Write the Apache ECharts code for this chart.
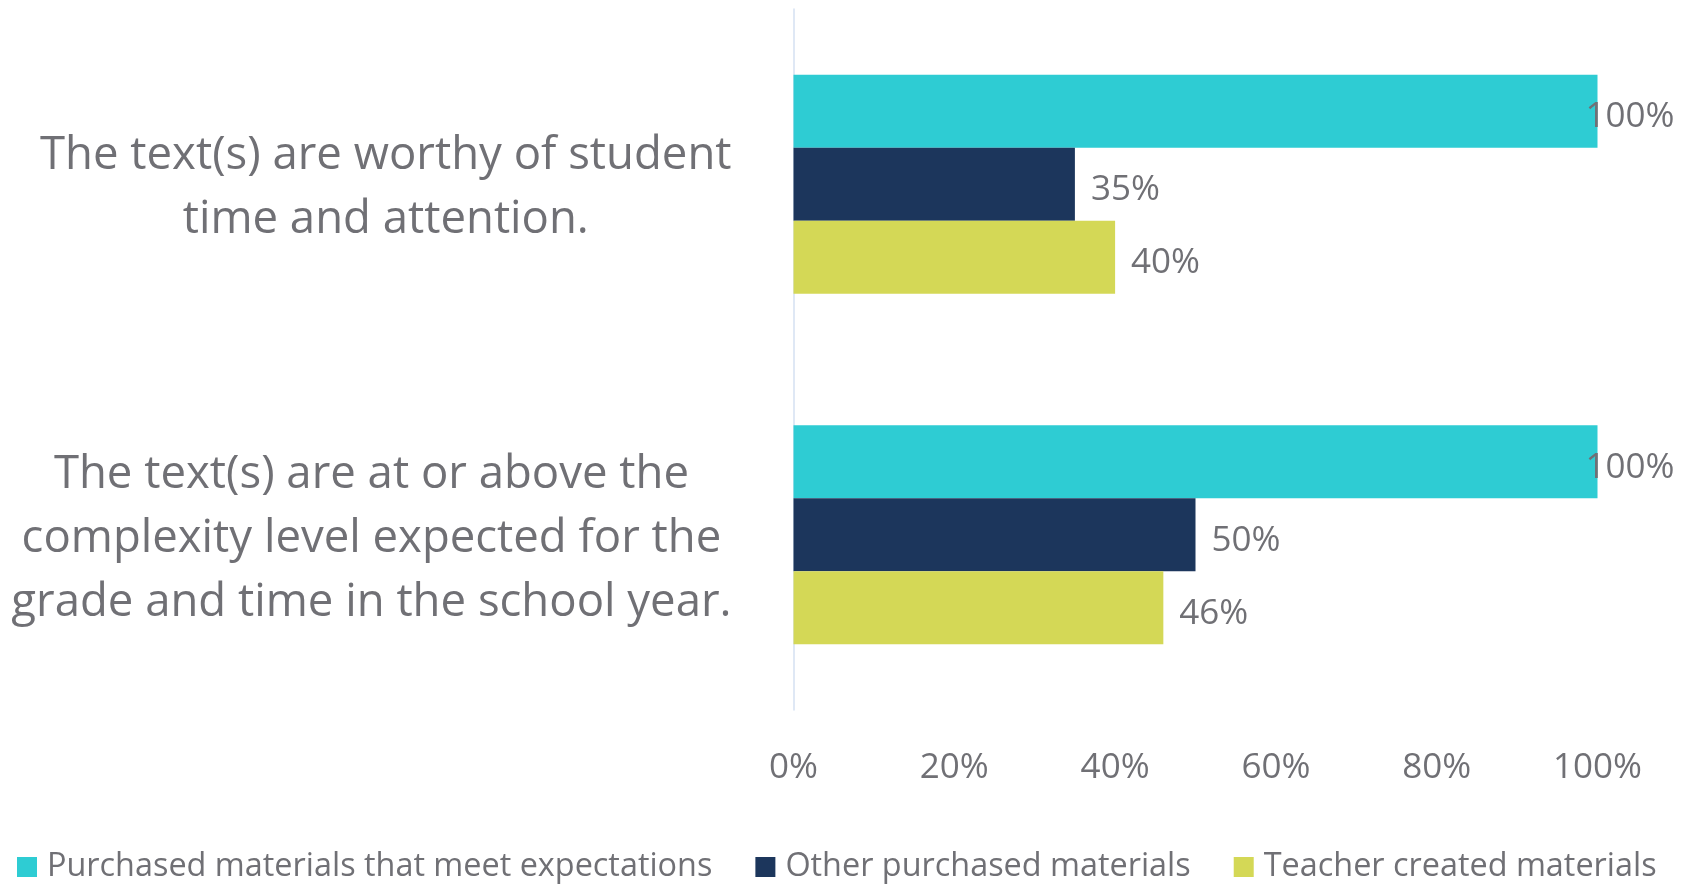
<!DOCTYPE html>
<html>
<head>
<meta charset="utf-8">
<script src="https://cdn.jsdelivr.net/npm/echarts@6/dist/echarts.min.js"></script>
<style>
  html, body { margin: 0; padding: 0; background: #ffffff; }
  #chart { width: 1690px; height: 884px; }
</style>
</head>
<body>
<div id="chart"></div>
<script>
// Survey statements (top to bottom)
const categories = [
  'The text(s) are worthy of student\ntime and attention.',
  'The text(s) are at or above the\ncomplexity level expected for the\ngrade and time in the school year.'
];
const seriesNames = [
  'Purchased materials that meet expectations',
  'Other purchased materials',
  'Teacher created materials'
];
const purchasedMeeting = [100, 100];
const otherPurchased = [35, 50];
const teacherCreated = [40, 46];
const xTicks = [0, 20, 40, 60, 80, 100];

const colors = ['#2ECCD3', '#1C365C', '#D4D856'];
const textColor = '#707075';
const fontFamily = '"Open Sans", "Noto Sans", sans-serif';

// Labels at the right edge of the scale sit slightly over the bar end
function withLabels(values) {
  return values.map(v => v >= xTicks[xTicks.length - 1]
    ? { value: v, label: { offset: [-28, 6] } }
    : v);
}

const seriesValues = [purchasedMeeting, otherPurchased, teacherCreated];

const chart = echarts.init(document.getElementById('chart'), null, { renderer: 'canvas' });
chart.setOption({
  animation: false,
  backgroundColor: '#ffffff',
  textStyle: { fontFamily: fontFamily },
  grid: { left: 793.5, right: 92.5, top: 9, bottom: 174, containLabel: false },
  legend: {
    left: 17,
    top: 851,
    width: 1670,
    padding: 0,
    itemWidth: 20,
    itemHeight: 20,
    itemGap: 43,
    icon: 'rect',
    textStyle: { color: textColor, fontSize: 32.4, fontFamily: fontFamily, padding: [0, 0, 0, 5] },
    data: seriesNames
  },
  xAxis: {
    type: 'value',
    min: xTicks[0],
    max: xTicks[xTicks.length - 1],
    interval: xTicks[1] - xTicks[0],
    axisLine: { show: false },
    axisTick: { show: false },
    splitLine: { show: false },
    axisLabel: {
      formatter: '{value}%',
      color: textColor,
      fontSize: 35,
      fontFamily: fontFamily,
      margin: 41
    }
  },
  yAxis: {
    type: 'category',
    inverse: true,
    data: categories,
    axisLine: { show: true, lineStyle: { color: '#D5E1F2', width: 1.5 } },
    axisTick: { show: false },
    axisLabel: {
      margin: 62,
      align: 'right',
      padding: [8, 0, 0, 0],
      formatter: v => v.split('\n').map(l => '{c|' + l + '}').join('\n'),
      rich: {
        c: { align: 'center', color: textColor, fontSize: 45.5, lineHeight: 64, fontFamily: fontFamily }
      }
    }
  },
  series: seriesNames.map((name, i) => ({
    name: name,
    type: 'bar',
    data: withLabels(seriesValues[i]),
    barWidth: 73,
    barGap: '0%',
    itemStyle: { color: colors[i] },
    label: {
      show: true,
      position: 'right',
      distance: 16,
      offset: [0, 6],
      formatter: '{c}%',
      color: textColor,
      fontSize: 35,
      fontFamily: fontFamily
    }
  }))
});
</script>
</body>
</html>
